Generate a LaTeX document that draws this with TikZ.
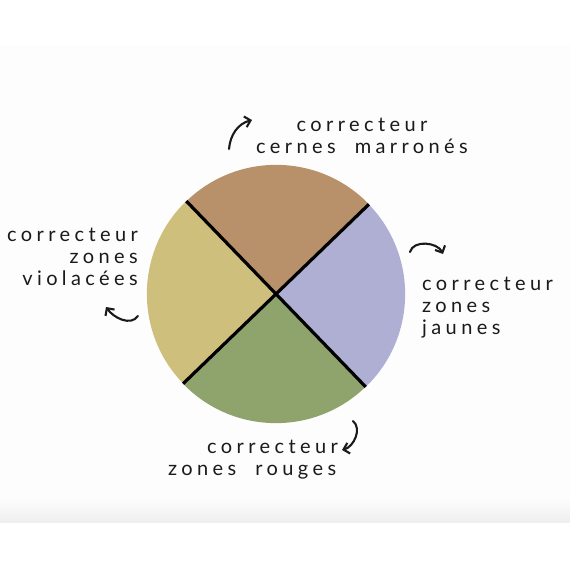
\documentclass[tikz,border=0pt]{standalone}
\usepackage{fontspec}
\usepackage{xcolor}
\usetikzlibrary{arrows.meta}
\newfontfamily\handfont[LetterSpace=22,WordSpace=2]{Lato}
\definecolor{sector-brown}{HTML}{B8916B}
\definecolor{sector-lilac}{HTML}{AEAFD3}
\definecolor{sector-green}{HTML}{8FA46D}
\definecolor{sector-yellow}{HTML}{CFBF7C}
\definecolor{panel-bg}{HTML}{FDFDFD}
\definecolor{panel-edge}{HTML}{EEEEEE}
\definecolor{ink}{HTML}{1A1A1A}

\begin{document}
\begin{tikzpicture}[x=1pt, y=1pt,
        every node/.style={inner sep=0pt},
        label text/.style={font=\handfont\fontsize{20}{22}\selectfont, text=ink},
        hand arrow/.style={-{Straight Barb[length=5.5pt,width=11pt]},
          line width=2.1pt, line cap=round, ink},
        divider/.style={line width=3.2pt, black}]
      \useasboundingbox (0,0) rectangle (570,570);
      % page panel with its soft lower edge
      \fill[panel-bg] (0,47) rectangle (570,525);
      \shade[top color=panel-bg, bottom color=panel-edge] (0,47) rectangle (570,72);
      % the wheel
      \node[circle, minimum size=258pt] (wheel) at (276,276) {};
      \fill[sector-brown] (wheel.center) -- (wheel.44)
        arc[start angle=44, end angle=134, radius=129] -- cycle;
      \fill[sector-yellow] (wheel.center) -- (wheel.134)
        arc[start angle=134, end angle=224, radius=129] -- cycle;
      \fill[sector-green] (wheel.center) -- (wheel.224)
        arc[start angle=224, end angle=314, radius=129] -- cycle;
      \fill[sector-lilac] (wheel.center) -- (wheel.314)
        arc[start angle=314, end angle=404, radius=129] -- cycle;
      \draw[divider] (wheel.134) -- (wheel.314);
      \draw[divider] (wheel.44) -- (wheel.224);
      % labels (base = baseline of the last line)
      \node[label text, align=center, anchor=base] (cernes) at (362,416)
        {correcteur\\cernes marronés};
      \node[label text, align=right, anchor=base east] (violacees) at (138,284)
        {correcteur\\zones\\violacées};
      \node[label text, align=left, anchor=base west] (jaunes) at (422,235)
        {correcteur\\zones\\jaunes};
      \node[label text, align=left, anchor=base west] (rouges) at (168,94)
        {\hspace{39pt}correcteur\\zones rouges};
      % hand drawn arrows
      \draw[hand arrow] (229,421) to[out=85,in=195] (252,450);
      \draw[hand arrow] (410,318) to[out=75,in=115] (443,316);
      \draw[hand arrow] (138,254) to[out=235,in=-55] (106,263);
      \draw[hand arrow] (353,149) to[out=-40,in=15] (342,120);
\end{tikzpicture}
\end{document}
